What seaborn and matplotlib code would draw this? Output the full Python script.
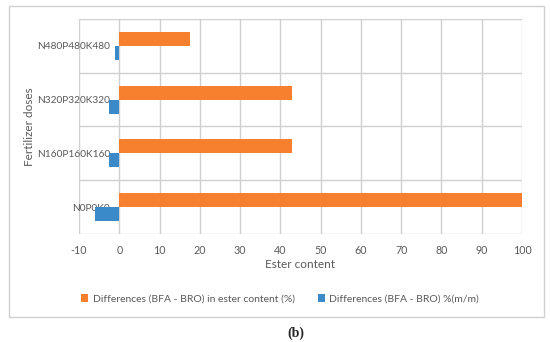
import pandas as pd
import numpy as np
import seaborn as sns
import matplotlib.pyplot as plt
from matplotlib.patches import Rectangle

# valores (b)
doses = ['N480P480K480', 'N320P320K320', 'N160P160K160', 'N0P0K0']
ester_diff = [17.6, 42.8, 42.8, 100.0]
mass_diff = [-1.0, -2.6, -2.6, -6.1]
series = ['Differences (BFA - BRO) in ester content (%)',
          'Differences (BFA - BRO) %(m/m)']
x_ticks = list(range(-10, 101, 10))

df = pd.DataFrame({
    'dose': doses * 2,
    'value': ester_diff + mass_diff,
    'serie': [series[0]] * len(doses) + [series[1]] * len(doses),
})

sns.set_style('white')
plt.rcParams['font.family'] = ['Lato', 'DejaVu Sans']
cinza = '#595959'

fig = plt.figure(figsize=(5.5, 3.42), dpi=100)
ax = fig.add_axes([0.1436, 0.3158, 0.8055, 0.6287])

sns.barplot(data=df, y='dose', x='value', hue='serie', order=doses,
            hue_order=series, palette=['#F7802F', '#3A8AC9'], saturation=1,
            width=0.52, orient='h', ax=ax, edgecolor='none', zorder=3)

ax.set_xlim(-10, 100)
ax.set_ylim(3.5, -0.5)
ax.set_xticks(x_ticks)
ax.set_xticklabels([str(t) for t in x_ticks])
ax.set_yticks(np.arange(-0.5, 4, 1), minor=True)
ax.grid(True, axis='x', color='#D0D0D0', lw=1, zorder=0)
ax.grid(True, axis='y', which='minor', color='#D0D0D0', lw=1, zorder=0)
ax.grid(False, axis='y', which='major')
for s in ax.spines.values():
    s.set_visible(False)

ax.tick_params(axis='x', length=0, pad=8, labelsize=7.7, labelcolor=cinza)
ax.tick_params(axis='y', which='both', length=0, labelsize=7.3, labelcolor=cinza)
ax.tick_params(axis='y', which='major', pad=-22.5)

ax.set_xlabel('Ester content', fontsize=8.5, color=cinza)
ax.xaxis.set_label_coords(0.5, -0.115)
ax.set_ylabel('Fertilizer doses', fontsize=8.5, color=cinza)
ax.yaxis.set_label_coords(-0.1, 0.5)

ax.legend(loc='center', bbox_to_anchor=(0.509, 0.126), bbox_transform=fig.transFigure,
          ncol=2, frameon=False, fontsize=7.5, labelcolor=cinza,
          handlelength=0.7, handleheight=0.7, handletextpad=0.4, columnspacing=2.2)

# moldura do gráfico
fig.patches.append(Rectangle((0.016, 0.073), 0.973, 0.909, transform=fig.transFigure,
                             fill=False, edgecolor='#D0D0D0', lw=1))
fig.text(0.538, 0.026, '(b)', ha='center', va='center', fontsize=10,
         fontweight='bold', family='Liberation Serif')

fig.savefig('out.png', dpi=100)
